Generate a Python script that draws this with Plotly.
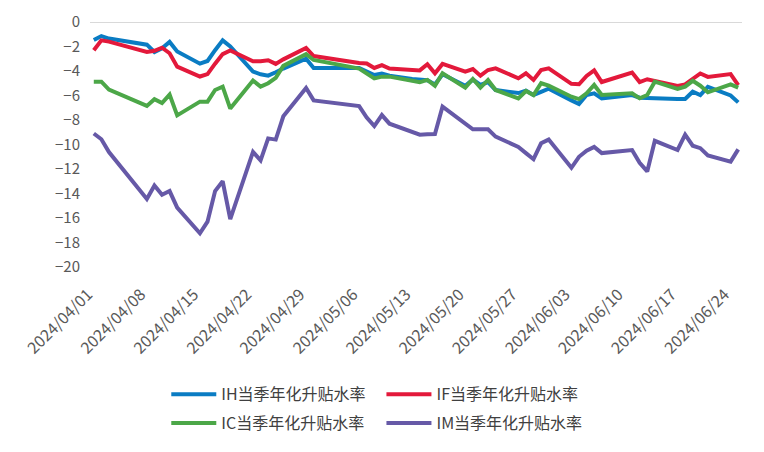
import plotly.graph_objects as go

dates = ["2024-04-01","2024-04-02","2024-04-03","2024-04-08","2024-04-09","2024-04-10","2024-04-11","2024-04-12",
         "2024-04-15","2024-04-16","2024-04-17","2024-04-18","2024-04-19","2024-04-22","2024-04-23","2024-04-24",
         "2024-04-25","2024-04-26","2024-04-29","2024-04-30","2024-05-06","2024-05-07","2024-05-08","2024-05-09",
         "2024-05-10","2024-05-13","2024-05-14","2024-05-15","2024-05-16","2024-05-17","2024-05-20","2024-05-21",
         "2024-05-22","2024-05-23","2024-05-24","2024-05-27","2024-05-28","2024-05-29","2024-05-30","2024-05-31",
         "2024-06-03","2024-06-04","2024-06-05","2024-06-06","2024-06-07","2024-06-11","2024-06-12","2024-06-13",
         "2024-06-14","2024-06-17","2024-06-18","2024-06-19","2024-06-20","2024-06-21","2024-06-24","2024-06-25"]

ih = [-1.47,-1.15,-1.35,-1.85,-2.45,-2.15,-1.63,-2.4,-3.4,-3.18,-2.3,-1.5,-2.0,-4.05,-4.27,-4.38,
      -4.1,-3.8,-3.0,-3.75,-3.75,-4.0,-4.33,-4.2,-4.38,-4.65,-4.73,-4.75,-5.1,-4.27,-5.2,-4.7,
      -5.14,-4.9,-5.55,-5.8,-5.6,-5.96,-5.7,-5.45,-6.4,-6.7,-5.96,-5.82,-6.23,-5.96,-6.18,-6.18,
      -6.23,-6.29,-6.29,-5.69,-5.96,-5.3,-6.0,-6.56]

if_ = [-2.3,-1.5,-1.6,-2.45,-2.35,-2.1,-2.55,-3.65,-4.45,-4.25,-3.4,-2.62,-2.32,-3.2,-3.2,-3.12,
       -3.42,-3.05,-2.12,-2.78,-3.35,-3.38,-3.75,-3.52,-3.8,-3.93,-3.95,-3.45,-4.19,-3.42,-4.05,-3.84,
       -4.38,-3.92,-3.78,-4.6,-4.19,-4.73,-3.92,-3.78,-5.05,-5.08,-4.4,-3.95,-4.9,-4.12,-4.9,-4.67,
       -4.8,-5.22,-5.09,-4.6,-4.2,-4.48,-4.25,-5.15]

ic = [-4.87,-4.87,-5.52,-6.85,-6.3,-6.62,-5.93,-7.62,-6.5,-6.5,-5.55,-5.28,-7.07,-4.78,-5.28,-5.0,
      -4.56,-3.58,-2.62,-3.1,-3.8,-4.19,-4.6,-4.46,-4.46,-4.8,-4.92,-4.73,-5.2,-4.19,-5.36,-4.65,
      -5.36,-4.73,-5.55,-6.23,-5.63,-5.96,-5.0,-5.2,-6.1,-6.29,-5.82,-5.14,-5.96,-5.82,-6.23,-5.96,
      -4.87,-5.47,-5.28,-4.8,-5.2,-5.74,-5.09,-5.36]

im = [-9.1,-9.57,-10.62,-14.45,-13.35,-14.1,-13.8,-15.15,-17.25,-16.3,-13.8,-13.0,-16.1,-10.6,-11.3,-9.5,
      -9.6,-7.7,-5.38,-6.4,-6.86,-7.8,-8.5,-7.6,-8.3,-9.0,-9.2,-9.17,-9.15,-6.9,-8.3,-8.76,
      -8.76,-8.76,-9.36,-10.2,-10.7,-11.2,-9.9,-9.6,-11.9,-11.0,-10.5,-10.2,-10.7,-10.45,-11.5,-12.2,
      -9.7,-10.45,-9.2,-10.1,-10.3,-10.9,-11.4,-10.4]

names = ["IH当季年化升贴水率", "IF当季年化升贴水率", "IC当季年化升贴水率", "IM当季年化升贴水率"]
colors = ["#0A7CC3", "#E3193B", "#4CA748", "#6659A7"]
legends = ["legend", "legend2", "legend", "legend2"]
series = [ih, if_, ic, im]

fig = go.Figure()
for i, (name, ys) in enumerate(zip(names, series)):
    fig.add_trace(go.Scatter(x=dates, y=ys, name=name, mode="lines",
                             line=dict(color=colors[i], width=4),
                             legend=legends[i], legendgroup=name))

font_family = "Noto Sans CJK SC, Noto Sans, sans-serif"
legend_common = dict(orientation="v", yanchor="top", xanchor="left",
                     font=dict(size=16, color="#404040", family=font_family),
                     tracegroupgap=5, itemwidth=45, bgcolor="rgba(0,0,0,0)")

fig.update_layout(
    width=764, height=452,
    margin=dict(l=90, r=22, t=22, b=185, autoexpand=False),
    paper_bgcolor="white", plot_bgcolor="white",
    font=dict(family=font_family, color="#595959"),
    xaxis=dict(type="date", range=["2024-03-31 12:00", "2024-06-25 12:00"],
               tick0="2024-04-01", dtick=7 * 86400000, tickformat="%Y/%m/%d",
               tickangle=-45, showgrid=False, zeroline=False, showline=False,
               ticks="", ticklabelstandoff=14, ticklabelshift=-6, automargin=False,
               tickfont=dict(size=16, color="#595959", family=font_family)),
    yaxis=dict(range=[-20, 0], dtick=2, showgrid=False, zeroline=False, showline=False,
               ticks="", ticklabelstandoff=9, automargin=False,
               tickfont=dict(size=15, color="#595959", family=font_family)),
    legend=dict(x=0.117, y=-0.45, **legend_common),
    legend2=dict(x=0.447, y=-0.45, **legend_common),
    shapes=[dict(type="line", xref="paper", yref="y", x0=0, x1=1, y0=0, y1=0,
                 line=dict(color="#D9D9D9", width=2), layer="below")],
)

fig.write_html("out.html", config={"displayModeBar": False},
               post_script="document.body.style.margin='0';document.body.style.overflow='hidden';")
